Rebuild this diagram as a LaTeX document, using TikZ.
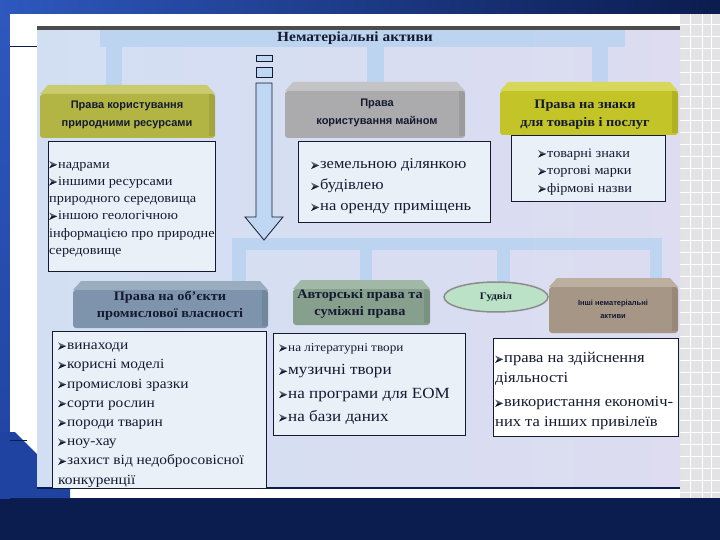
\documentclass[tikz,border=0pt]{standalone}
\usepackage{fontspec}
\setmainfont[FakeStretch=1.1]{Liberation Serif}
\newfontfamily\hsans{Liberation Sans}
\usetikzlibrary{shapes.geometric}
\definecolor{navy}{HTML}{0B1C4E}
\definecolor{topblue}{HTML}{2E58BE}
\definecolor{sideblue}{HTML}{1F43A0}
\definecolor{picbg}{HTML}{D2DFF3}
\definecolor{picbg2}{HTML}{DDDCF1}
\definecolor{band}{HTML}{B9D3F0}
\definecolor{ink}{HTML}{141A30}
\definecolor{olive}{HTML}{B2B444}
\definecolor{oliveT}{HTML}{CACB6E}
\definecolor{grayF}{HTML}{ABABAD}
\definecolor{grayT}{HTML}{C4C4C6}
\definecolor{yel}{HTML}{C2C427}
\definecolor{yelT}{HTML}{D7D85A}
\definecolor{slate}{HTML}{7E94AC}
\definecolor{slateT}{HTML}{9AACC0}
\definecolor{sage}{HTML}{86A08D}
\definecolor{sageT}{HTML}{A2B8A7}
\definecolor{brownF}{HTML}{A69685}
\definecolor{brownT}{HTML}{BCAF9F}
\definecolor{gwfill}{HTML}{BBE2C6}
\definecolor{listbg}{HTML}{EAF0F8}
\definecolor{arrowfill}{HTML}{BFD7F2}
\definecolor{gridbg}{HTML}{E3E3E5}

\newcommand\ar{\tikz[baseline=0pt, x=1pt, y=1pt]{%
  \fill[ink!70] (0,0) -- (8,3.6) -- (0,7.2) -- (2.4,3.6) -- cycle;
  \fill[ink] (0,0) -- (8,3.6) -- (2.4,3.6) -- cycle;}\hspace{1pt}}
\newcommand\brick[6]{%
  \fill[#6] ({#1+8},#2) -- ({#3-8},#2) -- (#3,{#2+9}) -- (#1,{#2+9}) -- cycle;
  \fill[#5, rounded corners=3] (#1,{#2+9}) rectangle (#3,#4);
  \fill[#5!75!black, opacity=0.35] ({#3-6},{#2+9}) rectangle (#3,{#4-2});
}
\tikzset{
  hsans/.style={font=\hsans\bfseries\fontsize{11}{18}\selectfont, text=ink, align=center},
  hserif/.style={font=\bfseries\fontsize{13}{17}\selectfont, text=ink, align=center},
  listbox/.style={draw=ink, line width=0.9, fill=listbg},
  listtext/.style={anchor=north west, align=flush left, text=ink, inner sep=0, text width=240, execute at begin node=\strut},
  bandfill/.style={fill=band, opacity=0.85},
}
\begin{document}
\begin{tikzpicture}[x=1pt,y=-1pt]
\useasboundingbox (0,0) rectangle (720,540);
% slide
\fill[navy] (0,0) rectangle (720,540);
\shade[left color=topblue, right color=navy] (0,0) rectangle (720,14);
\shade[top color=topblue, bottom color=sideblue] (0,14) rectangle (10,498);
\fill[white] (10,14) rectangle (720,498);
\fill[sideblue] (0,432) -- (15,432) -- (70,487) -- (70,498) -- (0,498) -- cycle;
\draw[navy, line width=1] (10,47) -- (37,47);
\draw[navy, line width=1] (10,440) -- (27,440);
% grid at right
\fill[gridbg] (680,14) rectangle (720,498);
\foreach \yy in {24,36,...,496} \draw[white, line width=0.6] (680,\yy) -- (720,\yy);
\foreach \xx in {690,702,711} \draw[white, line width=0.6] (\xx,14) -- (\xx,498);
% picture
\shade[left color=picbg, right color=picbg2] (37,29) rectangle (680,488);
\fill[black!70] (37,26) rectangle (680,30);
\draw[navy, line width=1.2] (37,488) -- (680,488);

% bands (top bracket)
\fill[bandfill] (100,30) rectangle (625,47);
\fill[bandfill] (106,47) rectangle (122,88);
\fill[bandfill] (367,47) rectangle (384,84);
\fill[bandfill] (592,47) rectangle (608,84);
% bands (bottom bracket)
\fill[bandfill] (232,238) rectangle (662,250);
\fill[bandfill] (232,250) rectangle (246,284);
\fill[bandfill] (360,250) rectangle (372,282);
\fill[bandfill] (497,250) rectangle (510,284);
\fill[bandfill] (650,250) rectangle (662,280);

% title
\node[font=\bfseries\fontsize{14}{16}\selectfont, text=ink] (title) at (355,38) {Нематеріальні активи};

% vertical arrow
\filldraw[fill=arrowfill, draw=ink, line width=0.8] (256,55) rectangle (272,61);
\filldraw[fill=arrowfill, draw=ink, line width=0.8] (256,67) rectangle (272,77);
\filldraw[fill=arrowfill, draw=ink, line width=0.8]
  (256,83) -- (272,83) -- (272,217) -- (283,217) -- (264,240) -- (245,217) -- (256,217) -- cycle;

% top headers
\brick{40}{85}{215}{138}{olive}{oliveT}
\node[hsans] (h1) at (127,115) {Права користування\\природними ресурсами};
\brick{285}{82}{465}{138}{grayF}{grayT}
\node[hsans] (h2) at (377,113) {Права\\користування майном};
\brick{500}{82}{678}{135}{yel}{yelT}
\node[hserif, font=\bfseries\fontsize{13}{18}\selectfont] (h3) at (585,115) {Права на знаки\\для товарів і послуг};

% top lists
\draw[listbox] (48,141) rectangle (215,271);
\node[listtext, font=\fontsize{13}{17.2}\selectfont] (l1) at (49,156)
  {\ar надрами\\\ar іншими ресурсами\\природного середовища\\\ar іншою геологічною\\інформацією про природне\\середовище};
\draw[listbox] (298,141) rectangle (490,222);
\node[listtext, font=\fontsize{15}{21}\selectfont] (l2) at (311,154)
  {\ar земельною ділянкою\\\ar будівлею\\\ar на оренду приміщень};
\draw[listbox] (511,135) rectangle (665,201);
\node[listtext, font=\fontsize{13}{17.5}\selectfont] (l3) at (538,145)
  {\ar товарні знаки\\\ar торгові марки\\\ar фірмові назви};

% bottom headers
\brick{73}{281}{268}{328}{slate}{slateT}
\node[hserif] (b1) at (170,306) {Права на об'єкти\\промислової власності};
\brick{293}{280}{430}{325}{sage}{sageT}
\node[hserif] (b2) at (360,304) {Авторські права та\\суміжні права};
\node[ellipse, draw=black!45, line width=1.5, fill=gwfill, minimum width=104, minimum height=30, inner sep=0,
  font=\bfseries\fontsize{10}{11}\selectfont, text=ink] (gw) at (496,297) {Гудвіл};
\brick{549}{278}{678}{333}{brownF}{brownT}
\node[font=\hsans\bfseries\fontsize{7.5}{13}\selectfont, text=ink, align=center] (b4) at (613,309) {Інші нематеріальні\\активи};

% bottom lists
\draw[listbox] (52,331) rectangle (266,488);
\node[listtext, font=\fontsize{14}{19.2}\selectfont] (l4) at (58,336)
  {\ar винаходи\\\ar корисні моделі\\\ar промислові зразки\\\ar сорти рослин\\\ar породи тварин\\\ar ноу-хау\\\ar захист від недобросовісної\\конкуренції};
\draw[listbox] (273,333) rectangle (465,435);
\node[listtext, font=\fontsize{15.5}{23.3}\selectfont] (l5) at (279,335)
  {\ar{\fontsize{12}{23.3}\selectfont на літературні твори}\\\ar музичні твори\\\ar на програми для ЕОМ\\\ar на бази даних};
\draw[listbox, fill=white] (493,338) rectangle (678,436);
\node[listtext, font=\fontsize{15}{19.5}\selectfont] (l6) at (495,349)
  {\ar права на здійснення\\діяльності\\[5pt]\ar використання економіч-\\них та інших привілеїв};
\end{tikzpicture}
\end{document}
